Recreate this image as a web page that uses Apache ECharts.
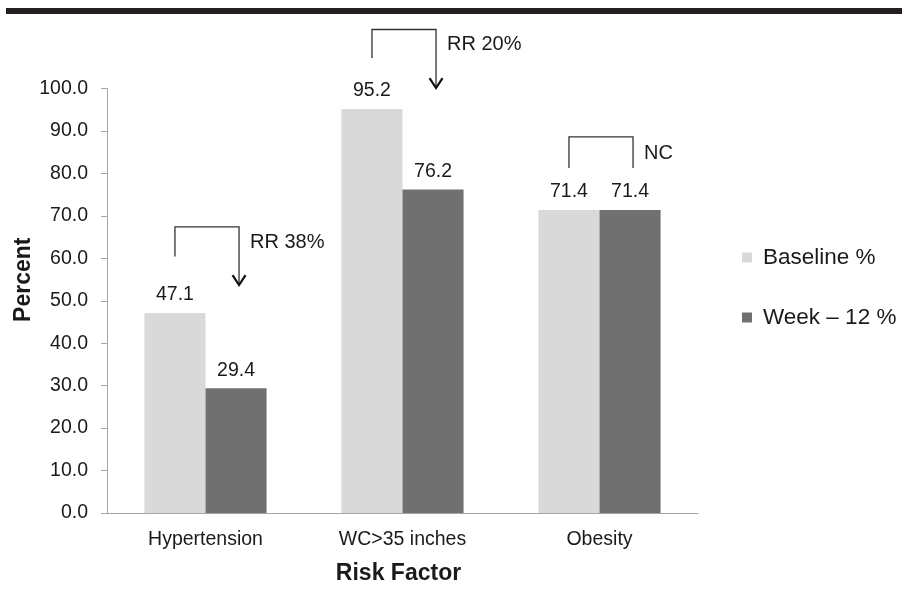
<!DOCTYPE html>
<html>
<head>
<meta charset="utf-8">
<script src="https://cdn.jsdelivr.net/npm/echarts@6/dist/echarts.min.js"></script>
<style>html,body{margin:0;padding:0;background:#fff}#c{width:902px;height:609px}</style>
</head>
<body>
<div id="c"></div>
<script>
const categories = ['Hypertension', 'WC>35 inches', 'Obesity'];
const baseline = [47.1, 95.2, 71.4];
const week12 = [29.4, 76.2, 71.4];
const yTicks = [0, 10, 20, 30, 40, 50, 60, 70, 80, 90, 100];
// comparison brackets (values in axis units)
const bracketTop = [67.4, 113.9, 88.6];
const bracketLeftEnd = [60.4, 107.2, 81.3];
const bracketRightEnd = [53.7, 100.1, 81.3];
const bracketArrow = [1, 1, 0];
const bracketLabels = ['RR 38%', 'RR 20%', 'NC'];

const FONT = '"Liberation Sans", Arial, sans-serif';
const CAT_GAP = 0.38;

const chart = echarts.init(document.getElementById('c'), null, {renderer: 'canvas'});
const bracketData = categories.map((c, i) => [i, bracketTop[i], bracketLeftEnd[i], bracketRightEnd[i], bracketArrow[i]]);

chart.setOption({
  animation: false,
  backgroundColor: '#fff',
  textStyle: {fontFamily: FONT},
  graphic: [{type: 'rect', shape: {x: 6, y: 8, width: 896, height: 6}, style: {fill: '#231f20'}}],
  grid: {left: 107, right: 204, top: 88.5, bottom: 96, containLabel: false, outerBoundsMode: 'none'},
  legend: {
    orient: 'vertical', left: 737, top: 240.5, itemWidth: 10, itemHeight: 10, itemGap: 36,
    icon: 'rect', data: ['Baseline %', 'Week – 12 %'],
    textStyle: {fontSize: 22.5, color: '#1a1a1a', fontFamily: FONT, padding: [0, 0, 0, 6], lineHeight: 24}
  },
  xAxis: {
    type: 'category', data: categories,
    axisLine: {lineStyle: {color: '#a6a6a6', width: 1}},
    axisTick: {show: false},
    axisLabel: {fontSize: 19.5, color: '#1a1a1a', margin: 17, fontFamily: FONT},
    name: 'Risk Factor', nameLocation: 'middle', nameGap: 49, nameMoveOverlap: false,
    nameTextStyle: {fontSize: 23, fontWeight: 'bold', color: '#1a1a1a', fontFamily: FONT, padding: [0, 8, 0, 0]}
  },
  yAxis: {
    type: 'value', min: yTicks[0], max: yTicks[yTicks.length - 1], interval: 10,
    axisLine: {show: true, lineStyle: {color: '#a6a6a6', width: 1}},
    axisTick: {show: true, length: 6, lineStyle: {color: '#a6a6a6'}},
    splitLine: {show: false},
    axisLabel: {fontSize: 19.5, color: '#1a1a1a', margin: 19, fontFamily: FONT, formatter: v => v.toFixed(1)},
    name: 'Percent', nameLocation: 'middle', nameGap: 72, nameRotate: 90, nameMoveOverlap: false,
    nameTextStyle: {fontSize: 23, fontWeight: 'bold', color: '#1a1a1a', fontFamily: FONT, padding: [0, 0, 0, 42]}
  },
  series: [
    {
      name: 'Baseline %', type: 'bar', data: baseline, barGap: '0%', barCategoryGap: '38%',
      itemStyle: {color: '#d9d9d9'},
      label: {show: true, position: 'top', distance: 8, fontSize: 19.5, color: '#1a1a1a', fontFamily: FONT, formatter: p => p.value.toFixed(1)}
    },
    {
      name: 'Week – 12 %', type: 'bar', data: week12, barGap: '0%', barCategoryGap: '38%',
      itemStyle: {color: '#707070'},
      label: {show: true, position: 'top', distance: 8, fontSize: 19.5, color: '#1a1a1a', fontFamily: FONT, formatter: p => p.value.toFixed(1)}
    },
    {
      name: 'brackets', type: 'custom', clip: false, silent: true,
      data: bracketData,
      renderItem: function (params, api) {
        const i = api.value(0);
        const band = api.size([1, 0])[0];
        const barW = band * (1 - CAT_GAP) / 2;
        const c = api.coord([i, api.value(1)]);
        const yTop = c[1];
        const xl = c[0] - barW / 2;
        const xr = c[0] + barW / 2 + 3;
        const yl = api.coord([i, api.value(2)])[1];
        const yr = api.coord([i, api.value(3)])[1];
        const stroke = {stroke: '#333', lineWidth: 1.3, fill: null};
        const children = [{
          type: 'polyline',
          shape: {points: [[xl, yl], [xl, yTop], [xr, yTop], [xr, yr]]},
          style: stroke
        }];
        if (api.value(4)) {
          children.push({
            type: 'polyline',
            shape: {points: [[xr - 6.5, yr - 10], [xr, yr], [xr + 6.5, yr - 10]]},
            style: {stroke: '#111', lineWidth: 2.2, fill: null}
          });
        }
        children.push({
          type: 'text',
          style: {
            text: bracketLabels[i], x: xr + 11, y: (yTop + yl) / 2 + 1,
            verticalAlign: 'middle', align: 'left',
            font: '20px ' + FONT, fill: '#1a1a1a'
          }
        });
        return {type: 'group', children: children};
      }
    }
  ]
});
</script>
</body>
</html>
